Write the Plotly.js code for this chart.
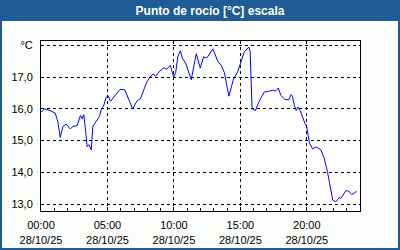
<!DOCTYPE html>
<html>
<head>
<meta charset="utf-8">
<script src="https://cdn.plot.ly/plotly-3.0.1.min.js"></script>
<style>html,body{margin:0;padding:0;background:#fbfdfb;}#chart{width:400px;height:250px;}</style>
</head>
<body>
<div id="chart"></div>
<script>
const times = ["00:00","00:17","00:32","00:48","01:04","01:16","01:27","01:39","01:54","02:12","02:25","02:43","02:58","03:06","03:13","03:20","03:28","03:36","03:47","03:54","04:09","04:24","04:33","04:42","04:54","05:02","05:14","05:39","05:56","06:18","06:36","06:54","07:14","07:29","07:56","08:11","08:26","08:38","08:56","09:14","09:26","09:44","09:53","09:59","10:08","10:18","10:29","10:38","10:53","11:18","11:41","11:59","12:14","12:29","12:56","13:18","13:33","13:48","14:08","14:29","14:48","15:03","15:18","15:38","15:44","15:53","16:08","16:26","16:48","17:11","17:26","17:38","17:51","18:03","18:21","18:38","18:49","18:55","19:03","19:12","19:20","19:30","19:41","19:51","19:59","20:05","20:12","20:26","20:42","21:03","21:18","21:33","21:48","21:57","22:11","22:26","22:33","22:44","22:57","23:09","23:23","23:33","23:45"];
const dewPoint = [15.90,16.00,15.97,15.93,15.87,15.60,15.10,15.45,15.52,15.37,15.45,15.47,15.79,15.69,15.82,15.41,14.81,14.87,14.71,15.45,15.60,15.76,16.00,16.08,16.36,16.42,16.24,16.45,16.61,16.60,16.30,16.00,16.26,16.32,16.82,17.00,17.10,17.03,17.19,17.29,17.25,17.37,17.14,17.00,17.15,17.66,17.83,17.60,17.44,16.92,17.74,17.29,17.64,17.61,17.89,17.50,17.38,17.14,16.40,16.94,17.17,17.47,17.80,17.95,17.82,16.00,15.95,16.26,16.53,16.56,16.59,16.56,16.66,16.42,16.30,16.28,16.45,16.40,16.12,15.95,16.06,15.95,15.73,15.55,15.45,15.25,14.92,14.74,14.80,14.71,14.45,14.02,13.45,13.12,13.07,13.20,13.18,13.28,13.42,13.41,13.30,13.34,13.40];
const day = "2025-10-28";
const yTickVals = [13,14,15,16,17,18];
const yTickText = ["13,0","14,0","15,0","16,0","17,0","°C"];
const titleText = "Punto de rocío [°C] escala";

const xs = times.map(t => day + " " + t);

// geometry (pixels)
const W = 400, H = 250, L = 41, R = 360, T = 41, B = 211;
const pw = R - L, ph = B - T;
const px = v => (v - L) / pw;
const py = v => (B - v) / ph;
const blue = "#1f5b95";

const shapes = [
  {type:"rect", xref:"paper", yref:"paper", x0:px(0), x1:px(W), y0:py(21), y1:py(0), fillcolor:blue, line:{width:0}, layer:"below"},
  {type:"rect", xref:"paper", yref:"paper", x0:px(0), x1:px(2), y0:py(H), y1:py(0), fillcolor:blue, line:{width:0}, layer:"below"},
  {type:"rect", xref:"paper", yref:"paper", x0:px(W-2), x1:px(W), y0:py(H), y1:py(0), fillcolor:blue, line:{width:0}, layer:"below"},
  {type:"rect", xref:"paper", yref:"paper", x0:px(0), x1:px(W), y0:py(H), y1:py(H-2), fillcolor:blue, line:{width:0}, layer:"below"}
];

const trace = {
  x: xs, y: dewPoint, type: "scatter", mode: "lines",
  line: {color: "#0000ff", width: 1}, hoverinfo: "skip"
};

const layout = {
  width: W, height: H,
  margin: {l: L, r: W - R, t: T, b: H - B, pad: 0},
  paper_bgcolor: "#fbfdfb",
  plot_bgcolor: "#ffffff",
  showlegend: false,
  title: {text: "<b>" + titleText + "</b>", font: {family: "Liberation Sans", size: 12, color: "#ffffff"},
          xref: "container", yref: "container", x: 210 / W, xanchor: "center", y: 1 - 10.5 / H, yanchor: "middle"},
  xaxis: {
    type: "date",
    range: [day + " 00:00", "2025-10-29 00:00"],
    tickvals: [0,5,10,15,20].map(h => day + " " + String(h).padStart(2,"0") + ":00"),
    tickformat: "%H:%M<br>%d/%m/%y",
    tickfont: {family: "Liberation Sans", size: 11, color: "#000000"},
    ticks: "inside", ticklen: 4, tickcolor: "#000000", tickwidth: 1,
    minor: {dtick: 3600000, tick0: day + " 00:00", ticks: "inside", ticklen: 3, tickcolor: "#000000", showgrid: false},
    showgrid: true, gridcolor: "#000000", gridwidth: 1, griddash: "3px,3px",
    showline: true, linecolor: "#000000", linewidth: 1, mirror: true,
    zeroline: false, fixedrange: true, ticklabelstandoff: 4
  },
  yaxis: {
    range: [12.78, 18.14],
    tickvals: yTickVals, ticktext: yTickText,
    tickfont: {family: "Liberation Sans", size: 11, color: "#000000"},
    ticks: "", showgrid: true, gridcolor: "#000000", gridwidth: 1, griddash: "3px,3px",
    showline: true, linecolor: "#000000", linewidth: 1, mirror: true,
    zeroline: false, fixedrange: true, ticklabelstandoff: 5
  },
  shapes: shapes
};

Plotly.newPlot("chart", [trace], layout, {staticPlot: true, displayModeBar: false});
</script>
</body>
</html>
